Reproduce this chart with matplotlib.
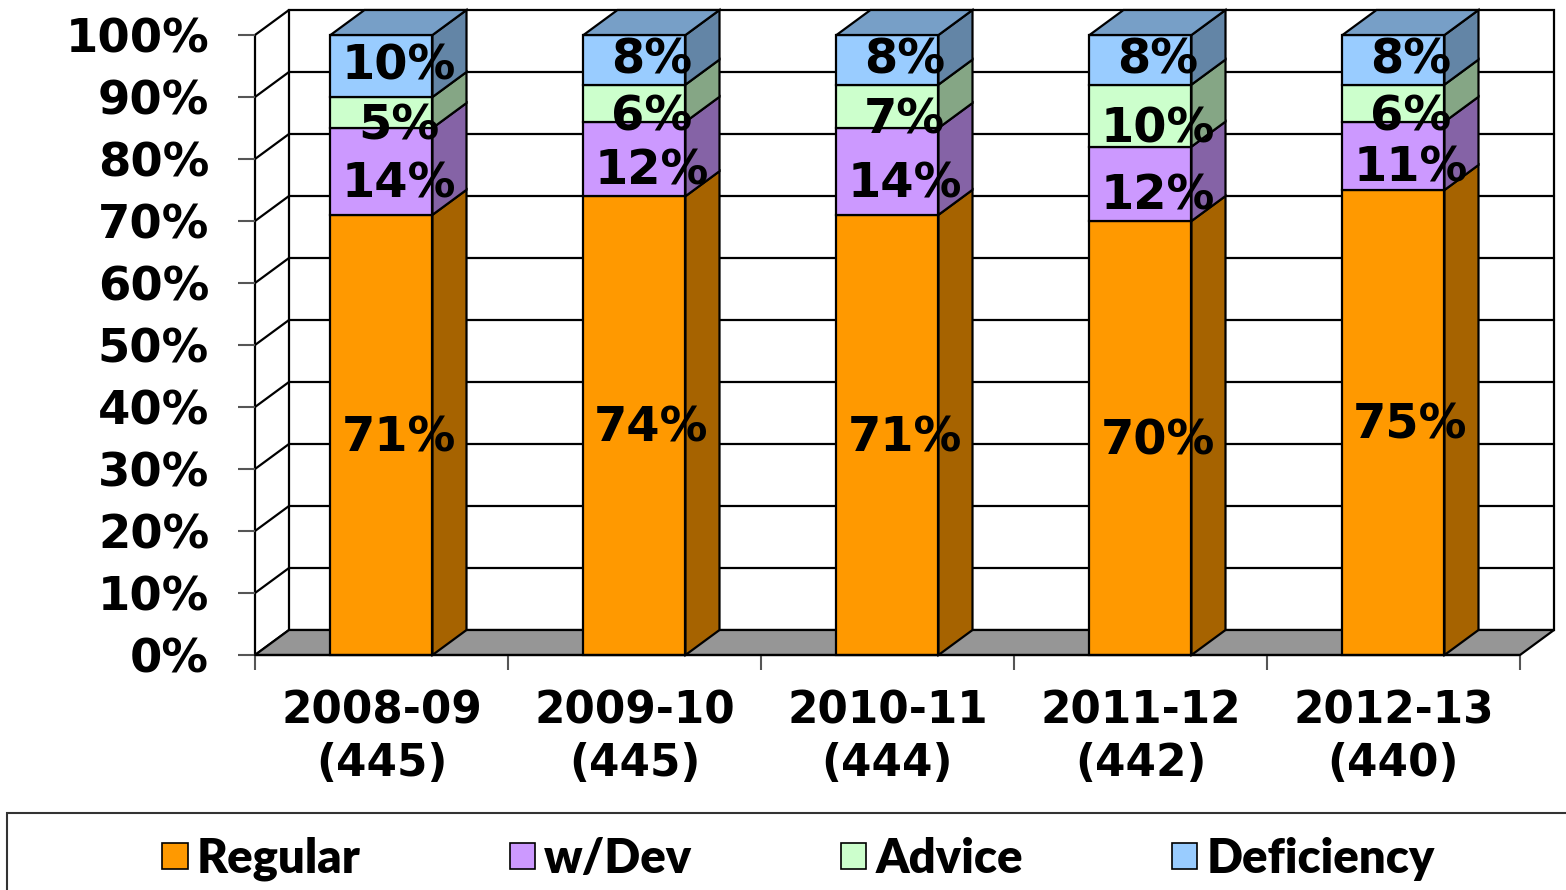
import numpy as np
import matplotlib
matplotlib.use("Agg")
import matplotlib.pyplot as plt
from matplotlib.colors import to_rgb
from matplotlib.patches import Polygon, Rectangle, Patch

#### Données ####
years = ["2008-09\n(445)", "2009-10\n(445)", "2010-11\n(444)", "2011-12\n(442)", "2012-13\n(440)"]
series_names = ["Regular", "w/Dev", "Advice", "Deficiency"]
regular = [71, 74, 71, 70, 75]
w_dev = [14, 12, 14, 12, 11]
advice = [5, 6, 7, 10, 6]
deficiency = [10, 8, 8, 8, 8]
colors = ["#FF9900", "#CC99FF", "#CCFFCC", "#99CCFF"]

# décalage vertical des étiquettes (points), par série
label_drop = [2, 9, 10, 0]

#### Mise en page (pixels) ####
W, H = 1566, 890
XPX = 253.0        # pixels par catégorie
YPX = 6.2          # pixels par %
dx = 34 / XPX      # profondeur 3D en x (unités catégorie)
dy = 25 / YPX      # profondeur 3D en y (%)
bar_w = 102 / XPX

plt.rcParams["font.family"] = "DejaVu Sans"
plt.rcParams["font.weight"] = "bold"

def shade(c, f):
    r, g, b = to_rgb(c)
    return (r * f, g * f, b * f)

fig = plt.figure(figsize=(W / 100, H / 100), dpi=100)
xmax = 4.5 + dx + 0.03
ymax = 100 + dy + 0.6
ax = fig.add_axes([255 / W, 1 - 655 / H, (xmax + 0.5) * XPX / W, ymax * YPX / H])
ax.set_xlim(-0.5, xmax)
ax.set_ylim(0, ymax)
for s in ax.spines.values():
    s.set_visible(False)
ax.patch.set_alpha(0)

lk = dict(color="black", lw=1.6, clip_on=False, solid_capstyle="round")

# mur du fond + grille
ax.add_patch(Rectangle((-0.5 + dx, dy), 5, 100, fc="white", ec="black", lw=1.6, zorder=0, clip_on=False))
for v in range(10, 100, 10):
    ax.plot([-0.5 + dx, 4.5 + dx], [v + dy, v + dy], zorder=1, **lk)
# mur de gauche
for v in range(0, 101, 10):
    ax.plot([-0.5, -0.5 + dx], [v, v + dy], zorder=1, **lk)
ax.plot([-0.5, -0.5], [0, 100], zorder=1, **lk)
# sol
floor = [(-0.5, 0), (4.5, 0), (4.5 + dx, dy), (-0.5 + dx, dy)]
ax.add_patch(Polygon(floor, closed=True, fc="#969696", ec="black", lw=1.6, zorder=1, clip_on=False))

# barres empilées
x = np.arange(len(years))
data = [regular, w_dev, advice, deficiency]
bottom = np.zeros(len(years))
for k, vals in enumerate(data):
    vals = np.array(vals, dtype=float)
    ax.bar(x, vals, bar_w, bottom=bottom, color=colors[k], edgecolor="black",
           linewidth=1.6, zorder=3, clip_on=False)
    for i in range(len(x)):
        x1 = x[i] + bar_w / 2
        b, h = bottom[i], vals[i]
        side = [(x1, b), (x1 + dx, b + dy), (x1 + dx, b + h + dy), (x1, b + h)]
        ax.add_patch(Polygon(side, closed=True, fc=shade(colors[k], 0.65), ec="black",
                             lw=1.6, zorder=3, clip_on=False))
        if k == len(data) - 1:
            x0 = x[i] - bar_w / 2
            t = b + h
            top = [(x0, t), (x0 + dx, t + dy), (x1 + dx, t + dy), (x1, t)]
            ax.add_patch(Polygon(top, closed=True, fc=shade(colors[k], 0.78), ec="black",
                                 lw=1.6, zorder=3, clip_on=False))
    bottom = bottom + vals

# étiquettes
bottom = np.zeros(len(years))
for k, vals in enumerate(data):
    for i in range(len(x)):
        ax.annotate(f"{vals[i]}%", (x[i] + dx / 2, bottom[i] + vals[i] / 2),
                    xytext=(0, -label_drop[k]), textcoords="offset points",
                    ha="center", va="center", fontsize=34.5, fontweight="bold",
                    zorder=10, annotation_clip=False)
    bottom = bottom + np.array(vals)

# axe x avant
ax.plot([-0.5, 4.5], [0, 0], zorder=4, **lk)

# graduations
ax.set_yticks(range(0, 101, 10))
ax.set_yticklabels([f"{v}%" for v in range(0, 101, 10)])
ax.tick_params(axis="y", length=12, width=1.5, color="#555555", pad=21, labelsize=33.5)
ax.set_xticks(np.arange(-0.5, 5, 1))
ax.set_xticklabels([])
ax.set_xticks(x, labels=years, minor=True)
ax.tick_params(axis="x", which="major", length=11, width=1.5, color="#555555")
ax.tick_params(axis="x", which="minor", length=0, pad=25, labelsize=31.5)
for t in ax.get_xticklabels(minor=True):
    t.set_linespacing(1.28)

# légende
fig.patches.append(Rectangle((7 / W, -0.1), 1.0, (H - 813) / H + 0.1, transform=fig.transFigure,
                             fill=False, ec="#333333", lw=1.5))
handles = [Patch(fc=c, ec="black", lw=1.2) for c in colors]
fig.legend(handles, series_names, loc="center left", bbox_to_anchor=(120 / W, 1 - 859 / H),
           ncol=4, frameon=False, prop=dict(family="Lato", weight="heavy", size=34),
           handlelength=0.53, handleheight=0.47, handletextpad=0.2, columnspacing=3.15)

fig.savefig("out.png", dpi=100)
